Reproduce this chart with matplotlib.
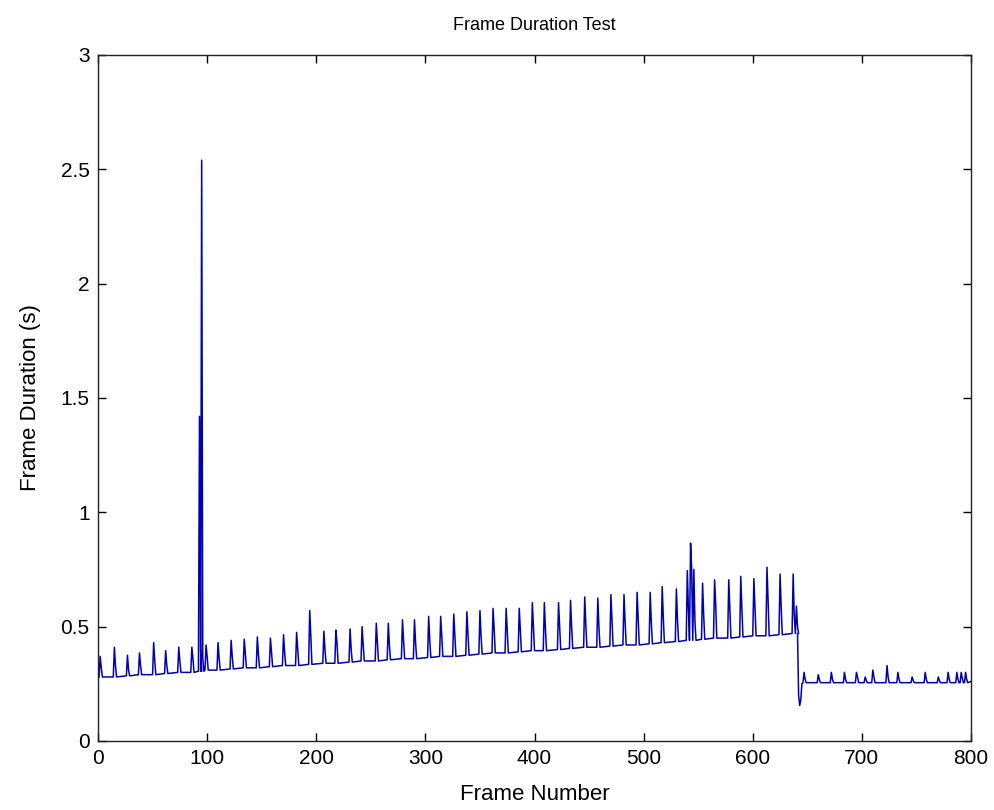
import matplotlib
matplotlib.use("Agg")
import matplotlib.pyplot as plt

# spikes during the slowly rising part (frame, peak, value right after peak, baseline)
spike_frames = [2, 15, 27, 38, 51, 62, 74, 86, 93, 95, 99, 110, 122, 134, 146, 158,
                170, 182, 194, 207, 218, 231, 242, 255, 266, 279, 290, 303, 314, 326,
                338, 350, 362, 374, 386, 398, 409, 422, 433, 446, 458, 470, 482, 494,
                506, 517, 530, 540, 543, 546, 554, 565, 578, 589, 601, 613, 625, 637, 640]
spike_peaks = [0.37, 0.41, 0.375, 0.385, 0.43, 0.395, 0.41, 0.41, 1.42, 2.54, 0.42, 0.43,
               0.44, 0.445, 0.455, 0.45, 0.465, 0.475, 0.57, 0.48, 0.485, 0.49, 0.50,
               0.515, 0.515, 0.53, 0.53, 0.545, 0.545, 0.555, 0.565, 0.57, 0.58, 0.58,
               0.58, 0.605, 0.605, 0.605, 0.615, 0.63, 0.625, 0.64, 0.64, 0.65, 0.65,
               0.675, 0.665, 0.745, 0.865, 0.75, 0.69, 0.705, 0.705, 0.72, 0.71, 0.76,
               0.73, 0.73, 0.59]
spike_tails = [0.32, 0.33, 0.31, 0.33, 0.35, 0.33, 0.35, 0.36, 0.40, 0.36, 0.37, 0.36,
               0.37, 0.38, 0.38, 0.39, 0.39, 0.40, 0.46, 0.40, 0.43, 0.40, 0.42, 0.43,
               0.42, 0.44, 0.43, 0.44, 0.46, 0.46, 0.47, 0.46, 0.49, 0.48, 0.48, 0.50,
               0.49, 0.50, 0.50, 0.51, 0.50, 0.53, 0.52, 0.53, 0.52, 0.54, 0.53, 0.58,
               0.75, 0.52, 0.55, 0.60, 0.58, 0.58, 0.58, 0.62, 0.59, 0.55, 0.50]
spike_base = [0.28, 0.28, 0.285, 0.29, 0.29, 0.295, 0.30, 0.30, 0.305, 0.305, 0.31, 0.31,
              0.315, 0.32, 0.32, 0.325, 0.33, 0.33, 0.335, 0.34, 0.34, 0.345, 0.35, 0.35,
              0.355, 0.36, 0.36, 0.365, 0.37, 0.37, 0.375, 0.38, 0.385, 0.385, 0.39,
              0.395, 0.395, 0.40, 0.405, 0.41, 0.41, 0.415, 0.42, 0.42, 0.425, 0.43,
              0.435, 0.44, 0.44, 0.44, 0.445, 0.45, 0.45, 0.455, 0.46, 0.46, 0.465,
              0.47, 0.47]

# sudden drop
drop_frames = [641, 642, 643, 644, 645]
drop_values = [0.47, 0.20, 0.155, 0.18, 0.25]

# small spikes after the drop
post_frames = [647, 660, 672, 684, 695, 703, 710, 723, 733, 746, 758, 770, 779, 787, 791, 795]
post_peaks = [0.30, 0.29, 0.30, 0.30, 0.30, 0.28, 0.31, 0.33, 0.30, 0.28, 0.30, 0.28,
              0.30, 0.30, 0.30, 0.30]
post_tails = [0.27, 0.27, 0.27, 0.27, 0.28, 0.265, 0.28, 0.28, 0.27, 0.265, 0.27, 0.265,
              0.27, 0.27, 0.275, 0.27]
post_base = [0.255, 0.255, 0.255, 0.255, 0.255, 0.255, 0.255, 0.255, 0.255, 0.255,
             0.255, 0.255, 0.255, 0.255, 0.255, 0.255]

start_frame, start_value = 1, 0.28
end_frame, end_value = 800, 0.26

frames = [start_frame]
durations = [start_value]
for f, p, t, b in zip(spike_frames, spike_peaks, spike_tails, spike_base):
    frames += [f - 1, f, f + 1, f + 2]
    durations += [b, p, t, b]
frames += drop_frames
durations += drop_values
for f, p, t, b in zip(post_frames, post_peaks, post_tails, post_base):
    frames += [f - 1, f, f + 1, f + 2]
    durations += [b, p, t, b]
frames.append(end_frame)
durations.append(end_value)

plt.rcParams['font.family'] = ['Liberation Sans', 'DejaVu Sans']

fig = plt.figure(figsize=(9.94, 8.10), dpi=100)
ax = fig.add_axes([0.0986, 0.0852, 0.8783, 0.8469])
ax.plot(frames, durations, color='#0000b4', lw=1.1)

ax.set_xlim(0, 800)
ax.set_ylim(0, 3)
ax.set_xticks(range(0, 801, 100))
ax.set_yticks([0, 0.5, 1, 1.5, 2, 2.5, 3])
ax.set_yticklabels(['0', '0.5', '1', '1.5', '2', '2.5', '3'])
ax.tick_params(direction='in', top=True, right=True, length=6, width=1,
               labelsize=15, colors='black', pad=6)
for s in ax.spines.values():
    s.set_linewidth(1)
    s.set_color('#222222')

ax.set_title('Frame Duration Test', fontsize=13, pad=18)
ax.set_xlabel('Frame Number', fontsize=16, labelpad=11)
ax.set_ylabel('Frame Duration (s)', fontsize=16, labelpad=14)

fig.savefig('out.png', dpi=100)
